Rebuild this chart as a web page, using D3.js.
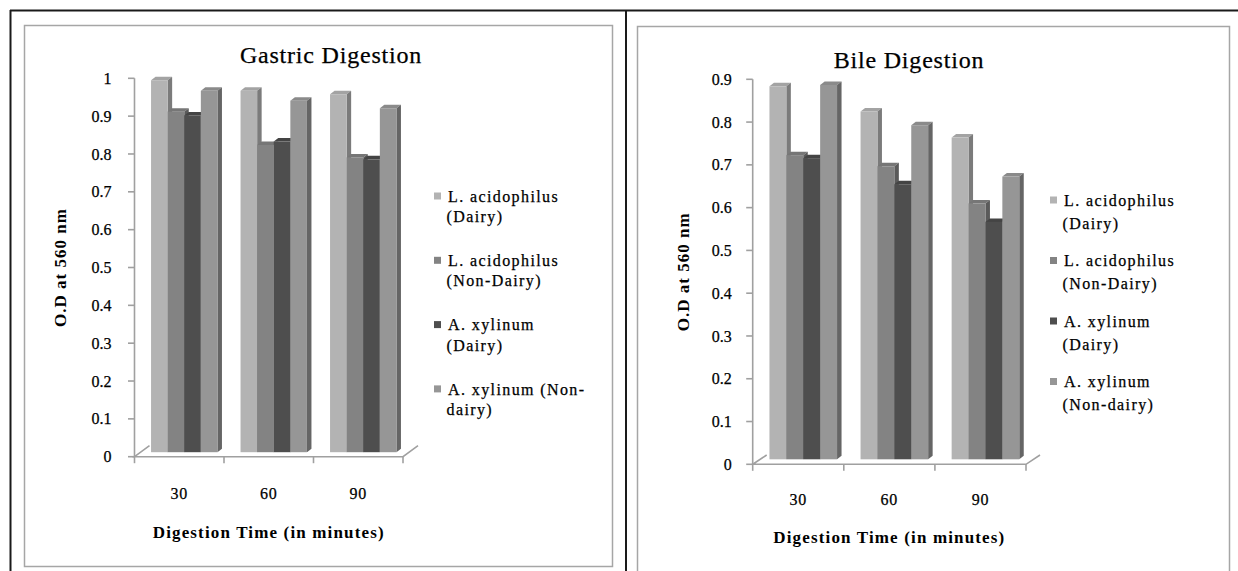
<!DOCTYPE html>
<html>
<head>
<meta charset="utf-8">
<script src="https://cdn.jsdelivr.net/npm/d3@7/dist/d3.min.js"></script>
<style>
  html, body { margin: 0; padding: 0; background: #fff; }
  svg { display: block; }
  text { font-family: "Liberation Serif", "Times New Roman", serif; fill: #000; }
  text.reg { stroke: #000; stroke-width: 0.25px; }
</style>
</head>
<body>
<svg id="fig" width="1238" height="571"></svg>
<script>
// Digestion times (minutes)
const categories = ["30", "60", "90"];

// Gastric digestion, O.D at 560 nm
const gastricLacDairy    = [0.983, 0.955, 0.946];
const gastricLacNonDairy = [0.900, 0.812, 0.779];
const gastricAxyDairy    = [0.890, 0.821, 0.774];
const gastricAxyNonDairy = [0.955, 0.929, 0.909];

// Bile digestion, O.D at 560 nm
const bileLacDairy    = [0.872, 0.813, 0.752];
const bileLacNonDairy = [0.711, 0.685, 0.598];
const bileAxyDairy    = [0.704, 0.643, 0.555];
const bileAxyNonDairy = [0.875, 0.781, 0.661];

// Tick labels
const gastricTicks = [0, 0.1, 0.2, 0.3, 0.4, 0.5, 0.6, 0.7, 0.8, 0.9, 1];
const bileTicks    = [0, 0.1, 0.2, 0.3, 0.4, 0.5, 0.6, 0.7, 0.8, 0.9];

// Legend labels, split into lines
const gastricLegend = [
  ["L. acidophilus", "(Dairy)"],
  ["L. acidophilus", "(Non-Dairy)"],
  ["A. xylinum", "(Dairy)"],
  ["A. xylinum (Non-", "dairy)"]
];
const bileLegend = [
  ["L. acidophilus", "(Dairy)"],
  ["L. acidophilus", "(Non-Dairy)"],
  ["A. xylinum", "(Dairy)"],
  ["A. xylinum", "(Non-dairy)"]
];

const xTitle = "Digestion Time (in minutes)";
const yTitle = "O.D at 560 nm";

// Face shades per series: front, top, side
const shades = [
  { front: "#b3b3b3", top: "#a3a3a3", side: "#7b7b7b" },
  { front: "#838383", top: "#767676", side: "#5a5a5a" },
  { front: "#4e4e4e", top: "#444444", side: "#353535" },
  { front: "#969696", top: "#8a8a8a", side: "#656565" }
];

const svg = d3.select("#fig");

// Table frame lines
svg.append("line").attr("x1", 10).attr("x2", 1238).attr("y1", 10.5).attr("y2", 10.5)
  .attr("stroke", "#1a1a1a").attr("stroke-width", 2);
svg.append("line").attr("x1", 10.5).attr("x2", 10.5).attr("y1", 10).attr("y2", 571)
  .attr("stroke", "#1a1a1a").attr("stroke-width", 2);
svg.append("line").attr("x1", 626).attr("x2", 626).attr("y1", 10).attr("y2", 571)
  .attr("stroke", "#1a1a1a").attr("stroke-width", 2);

function drawChart(cfg) {
  const g = svg.append("g");

  // chart area border
  g.append("rect")
    .attr("x", cfg.box[0] + 0.5).attr("y", cfg.box[1] + 0.5)
    .attr("width", cfg.box[2]).attr("height", cfg.box[3])
    .attr("fill", "#fff").attr("stroke", "#a6a6a6").attr("stroke-width", 1.5);

  const y = d3.scaleLinear().domain([0, cfg.yMax]).range([cfg.y0, cfg.yTop]);
  const x0 = d3.scaleBand().domain(categories).range([cfg.xLeft, cfg.xRight]).padding(0);
  const bw = x0.bandwidth();
  const cw = bw * cfg.clusterRatio;
  const x1 = d3.scaleBand().domain(d3.range(cfg.series.length)).range([0, cw]).padding(0);

  const axisColor = "#a0a0a0";
  const [fdx, fdy] = cfg.floorDepth;

  // floor: front edge plus the two receding edges
  g.append("path")
    .attr("d", `M${cfg.xLeft + fdx},${cfg.y0 + fdy} L${cfg.xLeft},${cfg.y0} L${cfg.xRight},${cfg.y0} L${cfg.xRight + fdx},${cfg.y0 + fdy}`)
    .attr("fill", "none").attr("stroke", axisColor).attr("stroke-width", 1.6);

  // vertical axis line and ticks
  g.append("line").attr("x1", cfg.xLeft).attr("x2", cfg.xLeft)
    .attr("y1", cfg.y0).attr("y2", y(cfg.yMax))
    .attr("stroke", axisColor).attr("stroke-width", 1.6);
  g.selectAll(".ytick").data(cfg.ticks).join("line")
    .attr("x1", cfg.xLeft - 6.5).attr("x2", cfg.xLeft)
    .attr("y1", d => y(d)).attr("y2", d => y(d))
    .attr("stroke", axisColor).attr("stroke-width", 1.6);
  g.selectAll(".ylab").data(cfg.ticks).join("text")
    .attr("class", "reg")
    .attr("x", cfg.xLeft - cfg.labelGap).attr("y", d => y(d)).attr("dy", "0.35em")
    .attr("text-anchor", "end").attr("font-size", 16)
    .text(d => d3.format("~g")(d));

  // horizontal axis ticks at band edges
  const edges = categories.map(c => x0(c)).concat([cfg.xRight]);
  g.selectAll(".xtick").data(edges).join("line")
    .attr("x1", d => d).attr("x2", d => d)
    .attr("y1", cfg.y0).attr("y2", cfg.y0 + 6.5)
    .attr("stroke", axisColor).attr("stroke-width", 1.6);
  g.selectAll(".xlab").data(categories).join("text")
    .attr("class", "reg")
    .attr("x", d => x0(d) + bw / 2).attr("y", cfg.y0 + cfg.xLabelOffset).attr("dy", "0.35em")
    .attr("text-anchor", "middle").attr("font-size", 16).attr("letter-spacing", 0.8)
    .text(d => d);

  // 3-D bars, painted left to right
  const [sx, sy] = cfg.barShift;
  const [dx, dy] = cfg.barDepth;
  const bars = [];
  categories.forEach((c, ci) => {
    cfg.series.forEach((vals, si) => {
      bars.push({ c, si, v: vals[ci] });
    });
  });
  const bg = g.append("g");
  bars.forEach(b => {
    const xl = x0(b.c) + (bw - cw) / 2 + sx + x1(b.si);
    const xr = xl + x1.bandwidth();
    const yb = y(0) + sy;
    const yt = y(b.v) + sy;
    const s = shades[b.si];
    bg.append("path")
      .attr("d", `M${xl},${yt} L${xr},${yt} L${xr + dx},${yt + dy} L${xl + dx},${yt + dy} Z`)
      .attr("fill", s.top);
    bg.append("path")
      .attr("d", `M${xr},${yt} L${xr + dx},${yt + dy} L${xr + dx},${yb + dy} L${xr},${yb} Z`)
      .attr("fill", s.side);
    bg.append("rect")
      .attr("x", xl).attr("y", yt).attr("width", xr - xl).attr("height", yb - yt)
      .attr("fill", s.front);
  });

  // chart title
  g.append("text").attr("class", "reg")
    .attr("x", cfg.title[1]).attr("y", cfg.title[2]).attr("dy", "0.35em")
    .attr("text-anchor", "middle").attr("font-size", 24).attr("letter-spacing", 0.8)
    .text(cfg.title[0]);

  // axis titles
  g.append("text").attr("x", (cfg.xLeft + cfg.xRight) / 2).attr("y", cfg.y0 + cfg.xTitleOffset).attr("dy", "0.35em")
    .attr("text-anchor", "middle").attr("font-size", 17).attr("font-weight", "bold")
    .attr("letter-spacing", 1.15)
    .text(xTitle);
  g.append("text")
    .attr("transform", `translate(${cfg.yTitleX},${(cfg.y0 + y(cfg.yMax)) / 2}) rotate(-90)`)
    .attr("dy", "0.35em").attr("text-anchor", "middle").attr("font-size", 17)
    .attr("font-weight", "bold").attr("letter-spacing", 1)
    .text(yTitle);

  // legend
  const lg = g.append("g");
  cfg.legend.forEach((lines, i) => {
    const ly = cfg.legendY + i * cfg.legendStep;
    lg.append("rect").attr("x", cfg.legendX).attr("y", ly - 3.5).attr("width", 7).attr("height", 7)
      .attr("fill", shades[i].front);
    lines.forEach((t, li) => {
      lg.append("text").attr("class", "reg")
        .attr("x", cfg.legendX + (li === 0 ? 14 : 12.5))
        .attr("y", ly + li * cfg.legendLine).attr("dy", "0.35em")
        .attr("font-size", 16).attr("letter-spacing", 1.4)
        .text(t);
    });
  });
}

drawChart({
  box: [24, 25, 588, 541],
  series: [gastricLacDairy, gastricLacNonDairy, gastricAxyDairy, gastricAxyNonDairy],
  ticks: gastricTicks, yMax: 1,
  y0: 456.7, yTop: 78.3, xLeft: 134.5, xRight: 403,
  clusterRatio: 0.742, barShift: [5, -4.5], barDepth: [4.5, -3.5], floorDepth: [15, -11],
  labelGap: 23, xLabelOffset: 37, xTitleOffset: 75, yTitleX: 60,
  title: ["Gastric Digestion", 331, 55],
  legend: gastricLegend, legendX: 434, legendY: 196, legendStep: 64.3, legendLine: 20.5
});

drawChart({
  box: [637, 26, 592, 570],
  series: [bileLacDairy, bileLacNonDairy, bileAxyDairy, bileAxyNonDairy],
  ticks: bileTicks, yMax: 0.9,
  y0: 464.3, yTop: 79.3, xLeft: 752.7, xRight: 1026,
  clusterRatio: 0.742, barShift: [5, -5], barDepth: [4.5, -3.5], floorDepth: [14, -9.3],
  labelGap: 21, xLabelOffset: 35, xTitleOffset: 73, yTitleX: 683,
  title: ["Bile Digestion", 909, 60],
  legend: bileLegend, legendX: 1050, legendY: 200, legendStep: 60.5, legendLine: 23
});
</script>
</body>
</html>
